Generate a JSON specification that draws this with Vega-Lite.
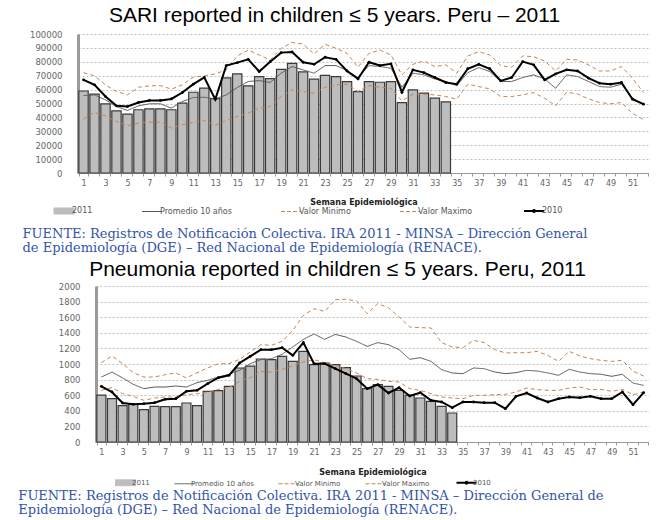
{
  "$schema": "https://vega.github.io/schema/vega-lite/v6.json",
  "background": "white",
  "padding": {"left": 18, "top": 5, "right": 0, "bottom": 0},
  "config": {
    "view": {"stroke": null},
    "font": "DejaVu Sans"
  },
  "data": {
    "values": [
      {"c":"SARI","w":1,"2011":59000,"Promedio 10 años":55700,"Valor Minimo":38800,"Valor Maximo":72200,"2010":67000},
      {"c":"SARI","w":2,"2011":56700,"Promedio 10 años":56200,"Valor Minimo":43500,"Valor Maximo":69900,"2010":63400},
      {"c":"SARI","w":3,"2011":49800,"Promedio 10 años":52600,"Valor Minimo":41100,"Valor Maximo":63400,"2010":55000},
      {"c":"SARI","w":4,"2011":44700,"Promedio 10 años":47800,"Valor Minimo":37100,"Valor Maximo":58600,"2010":48300},
      {"c":"SARI","w":5,"2011":42300,"Promedio 10 años":45000,"Valor Minimo":34000,"Valor Maximo":56200,"2010":47800},
      {"c":"SARI","w":6,"2011":45500,"Promedio 10 años":48300,"Valor Minimo":35900,"Valor Maximo":61700,"2010":50700},
      {"c":"SARI","w":7,"2011":46200,"Promedio 10 años":49800,"Valor Minimo":36600,"Valor Maximo":62700,"2010":52200},
      {"c":"SARI","w":8,"2011":46200,"Promedio 10 años":49800,"Valor Minimo":36600,"Valor Maximo":62900,"2010":52200},
      {"c":"SARI","w":9,"2011":45500,"Promedio 10 años":46700,"Valor Minimo":32300,"Valor Maximo":60300,"2010":53300},
      {"c":"SARI","w":10,"2011":50200,"Promedio 10 años":51400,"Valor Minimo":34700,"Valor Maximo":63400,"2010":57900},
      {"c":"SARI","w":11,"2011":58100,"Promedio 10 años":54300,"Valor Minimo":36400,"Valor Maximo":68900,"2010":63900},
      {"c":"SARI","w":12,"2011":61000,"Promedio 10 años":54500,"Valor Minimo":37800,"Valor Maximo":69900,"2010":68700},
      {"c":"SARI","w":13,"2011":53500,"Promedio 10 años":53300,"Valor Minimo":34200,"Valor Maximo":71300,"2010":53000},
      {"c":"SARI","w":14,"2011":68400,"Promedio 10 años":56200,"Valor Minimo":37800,"Valor Maximo":74200,"2010":77300},
      {"c":"SARI","w":15,"2011":71300,"Promedio 10 años":61500,"Valor Minimo":40700,"Valor Maximo":84200,"2010":79400},
      {"c":"SARI","w":16,"2011":62700,"Promedio 10 años":65800,"Valor Minimo":43100,"Valor Maximo":88500,"2010":81800},
      {"c":"SARI","w":17,"2011":69400,"Promedio 10 años":66500,"Valor Minimo":46700,"Valor Maximo":84900,"2010":73000},
      {"c":"SARI","w":18,"2011":67900,"Promedio 10 años":65100,"Valor Minimo":47800,"Valor Maximo":81300,"2010":80100},
      {"c":"SARI","w":19,"2011":74600,"Promedio 10 años":71800,"Valor Minimo":55000,"Valor Maximo":89700,"2010":86600},
      {"c":"SARI","w":20,"2011":78900,"Promedio 10 años":76600,"Valor Minimo":59800,"Valor Maximo":94000,"2010":87100},
      {"c":"SARI","w":21,"2011":72700,"Promedio 10 años":74200,"Valor Minimo":58600,"Valor Maximo":92800,"2010":79700},
      {"c":"SARI","w":22,"2011":67500,"Promedio 10 años":71800,"Valor Minimo":57400,"Valor Maximo":85600,"2010":78200},
      {"c":"SARI","w":23,"2011":70300,"Promedio 10 años":77300,"Valor Minimo":61700,"Valor Maximo":92600,"2010":83300},
      {"c":"SARI","w":24,"2011":69400,"Promedio 10 años":77300,"Valor Minimo":63400,"Valor Maximo":89700,"2010":81800},
      {"c":"SARI","w":25,"2011":65800,"Promedio 10 años":73700,"Valor Minimo":63900,"Valor Maximo":86100,"2010":73400},
      {"c":"SARI","w":26,"2011":58600,"Promedio 10 años":68700,"Valor Minimo":58600,"Valor Maximo":76100,"2010":67700},
      {"c":"SARI","w":27,"2011":65800,"Promedio 10 años":77300,"Valor Minimo":62900,"Valor Maximo":86100,"2010":79700},
      {"c":"SARI","w":28,"2011":65300,"Promedio 10 años":76600,"Valor Minimo":61700,"Valor Maximo":88500,"2010":77300},
      {"c":"SARI","w":29,"2011":65800,"Promedio 10 años":75400,"Valor Minimo":61000,"Valor Maximo":84900,"2010":78500},
      {"c":"SARI","w":30,"2011":50700,"Promedio 10 años":61700,"Valor Minimo":51900,"Valor Maximo":70600,"2010":58100},
      {"c":"SARI","w":31,"2011":59800,"Promedio 10 años":71800,"Valor Minimo":56700,"Valor Maximo":78200,"2010":74200},
      {"c":"SARI","w":32,"2011":57400,"Promedio 10 años":70600,"Valor Minimo":56700,"Valor Maximo":80600,"2010":72200},
      {"c":"SARI","w":33,"2011":53800,"Promedio 10 años":67700,"Valor Minimo":56200,"Valor Maximo":76600,"2010":68700},
      {"c":"SARI","w":34,"2011":51200,"Promedio 10 años":65800,"Valor Minimo":55000,"Valor Maximo":77800,"2010":65100},
      {"c":"SARI","w":35,"Promedio 10 años":62900,"Valor Minimo":53100,"Valor Maximo":71800,"2010":63900},
      {"c":"SARI","w":36,"Promedio 10 años":72200,"Valor Minimo":63900,"Valor Maximo":84200,"2010":75000},
      {"c":"SARI","w":37,"Promedio 10 años":75800,"Valor Minimo":62200,"Valor Maximo":87300,"2010":78200},
      {"c":"SARI","w":38,"Promedio 10 años":73000,"Valor Minimo":60500,"Valor Maximo":84900,"2010":75000},
      {"c":"SARI","w":39,"Promedio 10 años":65800,"Valor Minimo":55000,"Valor Maximo":77300,"2010":66300},
      {"c":"SARI","w":40,"Promedio 10 años":65800,"Valor Minimo":55000,"Valor Maximo":76100,"2010":68700},
      {"c":"SARI","w":41,"Promedio 10 años":68700,"Valor Minimo":56200,"Valor Maximo":84200,"2010":80100},
      {"c":"SARI","w":42,"Promedio 10 años":70600,"Valor Minimo":57900,"Valor Maximo":83700,"2010":77800},
      {"c":"SARI","w":43,"Promedio 10 años":67700,"Valor Minimo":53800,"Valor Maximo":80600,"2010":67000},
      {"c":"SARI","w":44,"Promedio 10 años":61000,"Valor Minimo":48300,"Valor Maximo":73400,"2010":71300},
      {"c":"SARI","w":45,"Promedio 10 años":70600,"Valor Minimo":58100,"Valor Maximo":81800,"2010":74200},
      {"c":"SARI","w":46,"Promedio 10 años":69400,"Valor Minimo":56900,"Valor Maximo":81300,"2010":73400},
      {"c":"SARI","w":47,"Promedio 10 años":65800,"Valor Minimo":53300,"Valor Maximo":77800,"2010":68200},
      {"c":"SARI","w":48,"Promedio 10 años":62200,"Valor Minimo":50700,"Valor Maximo":73400,"2010":64600},
      {"c":"SARI","w":49,"Promedio 10 años":61700,"Valor Minimo":49800,"Valor Maximo":73400,"2010":63900},
      {"c":"SARI","w":50,"Promedio 10 años":63900,"Valor Minimo":50700,"Valor Maximo":76600,"2010":65100},
      {"c":"SARI","w":51,"Promedio 10 años":53800,"Valor Minimo":43100,"Valor Maximo":68200,"2010":53100},
      {"c":"SARI","w":52,"Promedio 10 años":49500,"Valor Minimo":38300,"Valor Maximo":57900,"2010":49500},
      {"c":"NEU","w":1,"2011":600,"Promedio 10 años":833,"Valor Minimo":662,"Valor Maximo":1017,"2010":714},
      {"c":"NEU","w":2,"2011":555,"Promedio 10 años":897,"Valor Minimo":697,"Valor Maximo":1103,"2010":641},
      {"c":"NEU","w":3,"2011":466,"Promedio 10 años":821,"Valor Minimo":620,"Valor Maximo":1004,"2010":500},
      {"c":"NEU","w":4,"2011":483,"Promedio 10 años":739,"Valor Minimo":585,"Valor Maximo":889,"2010":483},
      {"c":"NEU","w":5,"2011":415,"Promedio 10 años":684,"Valor Minimo":534,"Valor Maximo":833,"2010":491},
      {"c":"NEU","w":6,"2011":457,"Promedio 10 años":705,"Valor Minimo":564,"Valor Maximo":833,"2010":504},
      {"c":"NEU","w":7,"2011":453,"Promedio 10 años":705,"Valor Minimo":577,"Valor Maximo":863,"2010":547},
      {"c":"NEU","w":8,"2011":453,"Promedio 10 años":718,"Valor Minimo":577,"Valor Maximo":885,"2010":555},
      {"c":"NEU","w":9,"2011":500,"Promedio 10 años":705,"Valor Minimo":607,"Valor Maximo":821,"2010":650},
      {"c":"NEU","w":10,"2011":466,"Promedio 10 años":761,"Valor Minimo":620,"Valor Maximo":889,"2010":662},
      {"c":"NEU","w":11,"2011":650,"Promedio 10 años":791,"Valor Minimo":641,"Valor Maximo":949,"2010":748},
      {"c":"NEU","w":12,"2011":658,"Promedio 10 años":833,"Valor Minimo":675,"Valor Maximo":1004,"2010":825},
      {"c":"NEU","w":13,"2011":714,"Promedio 10 años":868,"Valor Minimo":697,"Valor Maximo":1004,"2010":855},
      {"c":"NEU","w":14,"2011":949,"Promedio 10 años":919,"Valor Minimo":778,"Valor Maximo":1060,"2010":1013},
      {"c":"NEU","w":15,"2011":974,"Promedio 10 años":1004,"Valor Minimo":825,"Valor Maximo":1154,"2010":1098},
      {"c":"NEU","w":16,"2011":1064,"Promedio 10 años":1056,"Valor Minimo":906,"Valor Maximo":1248,"2010":1184},
      {"c":"NEU","w":17,"2011":1056,"Promedio 10 años":1068,"Valor Minimo":897,"Valor Maximo":1239,"2010":1184},
      {"c":"NEU","w":18,"2011":1098,"Promedio 10 años":1124,"Valor Minimo":932,"Valor Maximo":1291,"2010":1209},
      {"c":"NEU","w":19,"2011":1034,"Promedio 10 años":1218,"Valor Minimo":974,"Valor Maximo":1432,"2010":1111},
      {"c":"NEU","w":20,"2011":1162,"Promedio 10 años":1316,"Valor Minimo":1026,"Valor Maximo":1624,"2010":1274},
      {"c":"NEU","w":21,"2011":991,"Promedio 10 años":1385,"Valor Minimo":1056,"Valor Maximo":1709,"2010":1004},
      {"c":"NEU","w":22,"2011":1013,"Promedio 10 años":1316,"Valor Minimo":1017,"Valor Maximo":1675,"2010":1004},
      {"c":"NEU","w":23,"2011":991,"Promedio 10 años":1380,"Valor Minimo":983,"Valor Maximo":1825,"2010":940},
      {"c":"NEU","w":24,"2011":953,"Promedio 10 años":1346,"Valor Minimo":940,"Valor Maximo":1829,"2010":876},
      {"c":"NEU","w":25,"2011":846,"Promedio 10 años":1291,"Valor Minimo":885,"Valor Maximo":1808,"2010":812},
      {"c":"NEU","w":26,"2011":684,"Promedio 10 años":1226,"Valor Minimo":812,"Valor Maximo":1645,"2010":684},
      {"c":"NEU","w":27,"2011":735,"Promedio 10 años":1274,"Valor Minimo":803,"Valor Maximo":1774,"2010":735},
      {"c":"NEU","w":28,"2011":714,"Promedio 10 años":1248,"Valor Minimo":778,"Valor Maximo":1722,"2010":628},
      {"c":"NEU","w":29,"2011":662,"Promedio 10 años":1184,"Valor Minimo":769,"Valor Maximo":1603,"2010":697},
      {"c":"NEU","w":30,"2011":598,"Promedio 10 años":1060,"Valor Minimo":684,"Valor Maximo":1474,"2010":590},
      {"c":"NEU","w":31,"2011":564,"Promedio 10 años":1081,"Valor Minimo":662,"Valor Maximo":1466,"2010":632},
      {"c":"NEU","w":32,"2011":521,"Promedio 10 años":1034,"Valor Minimo":620,"Valor Maximo":1462,"2010":534},
      {"c":"NEU","w":33,"2011":457,"Promedio 10 años":927,"Valor Minimo":577,"Valor Maximo":1274,"2010":513},
      {"c":"NEU","w":34,"2011":372,"Promedio 10 años":885,"Valor Minimo":564,"Valor Maximo":1218,"2010":440},
      {"c":"NEU","w":35,"Promedio 10 años":876,"Valor Minimo":555,"Valor Maximo":1209,"2010":513},
      {"c":"NEU","w":36,"Promedio 10 años":949,"Valor Minimo":598,"Valor Maximo":1303,"2010":513},
      {"c":"NEU","w":37,"Promedio 10 años":940,"Valor Minimo":598,"Valor Maximo":1274,"2010":504},
      {"c":"NEU","w":38,"Promedio 10 años":897,"Valor Minimo":607,"Valor Maximo":1184,"2010":504},
      {"c":"NEU","w":39,"Promedio 10 años":876,"Valor Minimo":611,"Valor Maximo":1141,"2010":427},
      {"c":"NEU","w":40,"Promedio 10 años":889,"Valor Minimo":641,"Valor Maximo":1145,"2010":585},
      {"c":"NEU","w":41,"Promedio 10 años":919,"Valor Minimo":692,"Valor Maximo":1145,"2010":628},
      {"c":"NEU","w":42,"Promedio 10 años":910,"Valor Minimo":671,"Valor Maximo":1162,"2010":564},
      {"c":"NEU","w":43,"Promedio 10 años":885,"Valor Minimo":662,"Valor Maximo":1111,"2010":513},
      {"c":"NEU","w":44,"Promedio 10 años":855,"Valor Minimo":662,"Valor Maximo":1034,"2010":555},
      {"c":"NEU","w":45,"Promedio 10 años":932,"Valor Minimo":692,"Valor Maximo":1162,"2010":577},
      {"c":"NEU","w":46,"Promedio 10 años":897,"Valor Minimo":705,"Valor Maximo":1103,"2010":568},
      {"c":"NEU","w":47,"Promedio 10 años":876,"Valor Minimo":671,"Valor Maximo":1068,"2010":585},
      {"c":"NEU","w":48,"Promedio 10 años":868,"Valor Minimo":675,"Valor Maximo":1047,"2010":555},
      {"c":"NEU","w":49,"Promedio 10 años":842,"Valor Minimo":650,"Valor Maximo":1034,"2010":555},
      {"c":"NEU","w":50,"Promedio 10 años":868,"Valor Minimo":675,"Valor Maximo":1047,"2010":641},
      {"c":"NEU","w":51,"Promedio 10 años":756,"Valor Minimo":607,"Valor Maximo":910,"2010":479},
      {"c":"NEU","w":52,"Promedio 10 años":726,"Valor Minimo":641,"Valor Maximo":846,"2010":632}
    ]
  },
  "transform": [
    {"fold": ["2011", "Promedio 10 años", "Valor Minimo", "Valor Maximo", "2010"], "as": ["serie", "valor"]},
    {"filter": "isValid(datum.valor)"}
  ],
  "spacing": 4,
  "resolve": {"scale": {"color": "independent", "strokeDash": "independent"}, "legend": {"color": "independent", "strokeDash": "independent"}},
  "vconcat": [
    {
      "title": {"text": ["FUENTE: Registros de Notificación Colectiva. IRA 2011  - MINSA – Dirección General", "de Epidemiología  (DGE) – Red Nacional de Epidemiología (RENACE)."], "orient": "bottom", "anchor": "start", "font": "DejaVu Serif", "fontSize": 13, "fontWeight": "normal", "color": "#3355a5", "lineHeight": 14, "offset": 12, "dx": -7},
      "resolve": {"scale": {"color": "independent", "strokeDash": "independent"}, "legend": {"color": "independent", "strokeDash": "independent"}},
      "vconcat": [
        {
          "title": {"text": "SARI reported in children ≤ 5 years. Peru – 2011", "font": "Liberation Sans", "fontSize": 21, "fontWeight": "normal", "color": "#000", "anchor": "middle", "offset": 4, "dx": -29},
          "width": 571,
          "height": 139,
          "transform": [{"filter": "datum.c === 'SARI'"}],
          "encoding": {
            "x": {"field": "w", "type": "ordinal", "scale": {"paddingInner": 0.15, "paddingOuter": 0.08},
              "axis": {"title": "Semana Epidemiológica", "titleFont": "DejaVu Sans", "titleFontSize": 8, "titleFontWeight": "bold", "titleColor": "#222", "titlePadding": 11,
                "labelExpr": "datum.value % 2 === 1 ? datum.label : ''", "labelAngle": 0, "labelFont": "DejaVu Sans", "labelFontSize": 8, "labelColor": "#666", "labelPadding": 3,
                "tickBand": "extent", "tickSize": 3, "tickColor": "#999", "domainColor": "#999", "grid": false}},
            "y": {"field": "valor", "type": "quantitative", "scale": {"domain": [0, 100000], "nice": false},
              "axis": {"title": null, "values": [0,10000,20000,30000,40000,50000,60000,70000,80000,90000,100000], "format": "d", "grid": true, "gridColor": "#b0b0b0", "gridDash": [2,2], "gridWidth": 0.8,
                "domainColor": "#9a9a9a", "domainWidth": 3, "ticks": false, "labelFont": "DejaVu Sans", "labelFontSize": 8.5, "labelColor": "#666", "labelPadding": 16}},
            "color": {"field": "serie", "type": "nominal",
              "scale": {"domain": ["2011", "Promedio 10 años", "Valor Minimo", "Valor Maximo", "2010"], "range": ["#bdbdbd", "#555555", "#c98452", "#c98452", "#000000"]},
              "legend": {"orient": "none", "legendX": -18, "legendY": 173, "direction": "horizontal", "title": null, "columnPadding": 47, "labelFont": "DejaVu Sans", "labelFontSize": 8, "labelColor": "#555", "symbolSize": 400, "labelOffset": 4,
                "encode": {"symbols": {"update": {
                  "shape": {"signal": "datum.value === '2011' ? 'M-1,-0.3H1V0.3H-1Z' : (datum.value === '2010' ? 'M-1,0H1M-0.1,0A0.1,0.1 0 1,0 0.1,0A0.1,0.1 0 1,0 -0.1,0' : 'stroke')"},
                  "fill": {"signal": "datum.value === '2011' ? '#bdbdbd' : 'transparent'"},
                  "stroke": {"signal": "datum.value === '2011' ? '#3a3a3a' : (datum.value === '2010' ? '#000000' : (datum.value === 'Promedio 10 años' ? '#555555' : '#c98452'))"},
                  "strokeWidth": {"signal": "datum.value === '2010' ? 2 : 1"},
                  "strokeDash": {"signal": "(datum.value === 'Valor Minimo' || datum.value === 'Valor Maximo') ? [4, 2] : [1, 0]"},
                  "opacity": {"value": 1}
                }}}}
            }
          },
          "layer": [
            {"transform": [{"filter": "datum.serie === '2011'"}], "mark": {"type": "bar", "stroke": "#3a3a3a", "strokeWidth": 1.2}},
            {"transform": [{"filter": "datum.serie !== '2011' && datum.serie !== '2010'"}], "mark": {"type": "line", "strokeWidth": 1},
              "encoding": {"strokeDash": {"field": "serie", "type": "nominal", "legend": null, "scale": {"domain": ["Promedio 10 años", "Valor Minimo", "Valor Maximo"], "range": [[1, 0], [4, 3], [4, 3]]}}}},
            {"transform": [{"filter": "datum.serie === '2010'"}], "mark": {"type": "line", "strokeWidth": 2, "point": {"filled": true, "size": 8, "color": "#000"}}}
          ]
        }
      ]
    },
    {
      "title": {"text": ["FUENTE: Registros de Notificación Colectiva. IRA 2011  - MINSA – Dirección General de", "Epidemiología  (DGE) – Red Nacional de Epidemiología (RENACE)."], "orient": "bottom", "anchor": "start", "font": "DejaVu Serif", "fontSize": 13, "fontWeight": "normal", "color": "#3355a5", "lineHeight": 13.5, "offset": 2, "dx": -40},
      "resolve": {"scale": {"color": "independent", "strokeDash": "independent"}, "legend": {"color": "independent", "strokeDash": "independent"}},
      "vconcat": [
        {
          "title": {"text": "Pneumonia reported in children ≤ 5 years. Peru, 2011", "font": "Liberation Sans", "fontSize": 21, "fontWeight": "normal", "color": "#000", "anchor": "middle", "offset": 2, "dx": -26},
          "width": 571,
          "height": 156,
          "transform": [{"filter": "datum.c === 'NEU'"}],
          "encoding": {
            "x": {"field": "w", "type": "ordinal", "scale": {"paddingInner": 0.15, "paddingOuter": 0.08, "range": [18, 571]},
              "axis": {"title": "Semana Epidemiológica", "titleFont": "DejaVu Sans", "titleFontSize": 8, "titleFontWeight": "bold", "titleColor": "#222", "titlePadding": 12,
                "labelExpr": "datum.value % 2 === 1 ? datum.label : ''", "labelAngle": 0, "labelFont": "DejaVu Sans", "labelFontSize": 8, "labelColor": "#666", "labelPadding": 3,
                "tickBand": "extent", "tickSize": 3, "tickColor": "#999", "domainColor": "#999", "grid": false}},
            "y": {"field": "valor", "type": "quantitative", "scale": {"domain": [0, 2000], "nice": false},
              "axis": {"title": null, "offset": -18, "values": [0,200,400,600,800,1000,1200,1400,1600,1800,2000], "format": "d", "grid": true, "gridColor": "#b0b0b0", "gridDash": [2,2], "gridWidth": 0.8,
                "domainColor": "#9a9a9a", "domainWidth": 3, "ticks": false, "labelFont": "DejaVu Sans", "labelFontSize": 8.5, "labelColor": "#666", "labelPadding": 16}},
            "color": {"field": "serie", "type": "nominal",
              "scale": {"domain": ["2011", "Promedio 10 años", "Valor Minimo", "Valor Maximo", "2010"], "range": ["#bdbdbd", "#555555", "#c98452", "#c98452", "#000000"]},
              "legend": {"orient": "none", "legendX": 44, "legendY": 193, "direction": "horizontal", "title": null, "columnPadding": 22, "labelFont": "DejaVu Sans", "labelFontSize": 7, "labelColor": "#555", "symbolSize": 400, "labelOffset": 3,
                "encode": {"symbols": {"update": {
                  "shape": {"signal": "datum.value === '2011' ? 'M-1,-0.3H1V0.3H-1Z' : (datum.value === '2010' ? 'M-1,0H1M-0.1,0A0.1,0.1 0 1,0 0.1,0A0.1,0.1 0 1,0 -0.1,0' : 'stroke')"},
                  "fill": {"signal": "datum.value === '2011' ? '#bdbdbd' : 'transparent'"},
                  "stroke": {"signal": "datum.value === '2011' ? '#3a3a3a' : (datum.value === '2010' ? '#000000' : (datum.value === 'Promedio 10 años' ? '#555555' : '#c98452'))"},
                  "strokeWidth": {"signal": "datum.value === '2010' ? 2 : 1"},
                  "strokeDash": {"signal": "(datum.value === 'Valor Minimo' || datum.value === 'Valor Maximo') ? [4, 2] : [1, 0]"},
                  "opacity": {"value": 1}
                }}}}
            }
          },
          "layer": [
            {"transform": [{"filter": "datum.serie === '2011'"}], "mark": {"type": "bar", "stroke": "#3a3a3a", "strokeWidth": 1.2}},
            {"transform": [{"filter": "datum.serie !== '2011' && datum.serie !== '2010'"}], "mark": {"type": "line", "strokeWidth": 1},
              "encoding": {"strokeDash": {"field": "serie", "type": "nominal", "legend": null, "scale": {"domain": ["Promedio 10 años", "Valor Minimo", "Valor Maximo"], "range": [[1, 0], [4, 3], [4, 3]]}}}},
            {"transform": [{"filter": "datum.serie === '2010'"}], "mark": {"type": "line", "strokeWidth": 2, "point": {"filled": true, "size": 8, "color": "#000"}}}
          ]
        }
      ]
    }
  ]
}
